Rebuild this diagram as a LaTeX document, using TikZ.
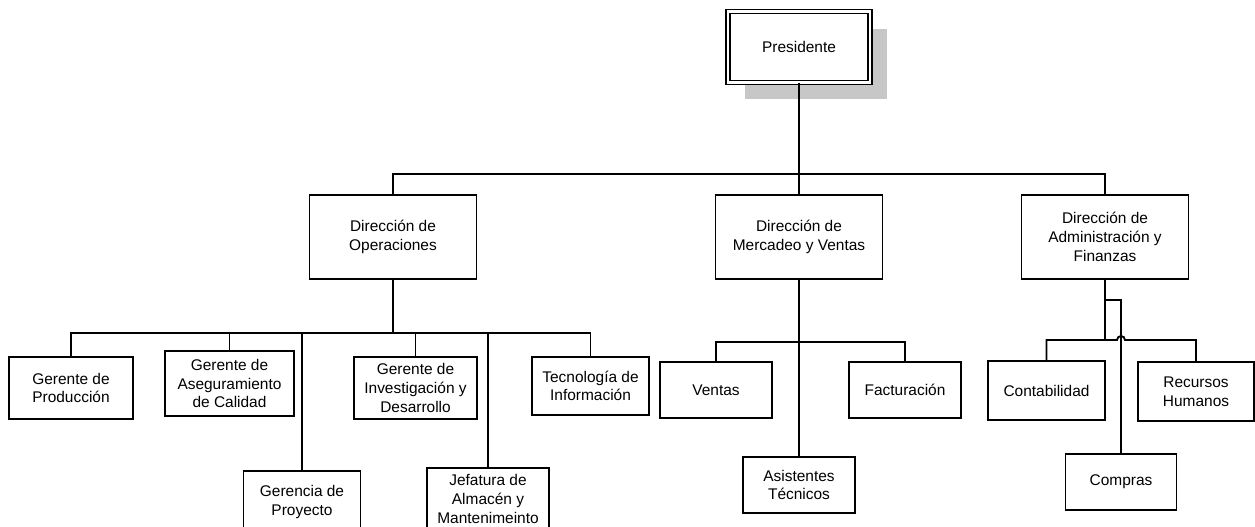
\documentclass[tikz,border=0pt]{standalone}
\usepackage{fontspec}
\setmainfont{Liberation Sans}
\usetikzlibrary{positioning, shadows}

\begin{document}
\begin{tikzpicture}[x=0.02cm, y=-0.02cm, font=\fontsize{8.8}{10.6}\selectfont]
        % Setup the style for the boxes
        \tikzset{box style/.style={draw,
                                   line width=1.05pt,
                                   fill=white,
                                   align=center,
                                   inner sep=1pt}}
        \tikzset{box style2/.style={box style,
                                    double,
                                    double distance=1.6pt,
                                    line width=0.8pt,
                                    drop shadow={shadow xshift=0.34cm, shadow yshift=-0.34cm,
                                                 fill=black!22, opacity=1}}}
        \tikzset{line style/.style={line width=1.05pt, draw=black}}

        \useasboundingbox (0,0) rectangle (1255,527);

        % Draw the boxes
        \node[box style2, minimum width=2.84cm, minimum height=1.42cm] at (799,47) (pres) {Presidente};
        \node[box style, minimum width=3.34cm, minimum height=1.68cm] at (393,237) (dirop) {Dirección de\\Operaciones};
        \node[box style, minimum width=3.34cm, minimum height=1.68cm] at (799,237) (dirmer) {Dirección de\\Mercadeo y Ventas};
        \node[box style, minimum width=3.34cm, minimum height=1.68cm] at (1105,237) (diradm) {Dirección de\\Administración y\\Finanzas};

        \node[box style, minimum width=2.48cm, minimum height=1.24cm] at (71,388) (gprod) {Gerente de\\Producción};
        \node[box style, minimum width=2.58cm, minimum height=1.30cm] at (229.5,383.5) (gcal) {Gerente de\\Aseguramiento\\de Calidad};
        \node[box style, minimum width=2.34cm, minimum height=1.24cm] at (302,502) (gproy) {Gerencia de\\Proyecto};
        \node[box style, minimum width=2.46cm, minimum height=1.24cm] at (415.5,388) (ginv) {Gerente de\\Investigación y\\Desarrollo};
        \node[box style, minimum width=2.44cm, minimum height=1.24cm] at (488,499) (jalm) {Jefatura de\\Almacén y\\Mantenimeinto};
        \node[box style, minimum width=2.34cm, minimum height=1.16cm] at (590.5,386) (tecno) {Tecnología de\\Información};

        \node[box style, minimum width=2.24cm, minimum height=1.12cm] at (716,390) (ventas) {Ventas};
        \node[box style, minimum width=2.24cm, minimum height=1.12cm] at (905,390) (fact) {Facturación};
        \node[box style, minimum width=2.24cm, minimum height=1.12cm] at (799,485) (asist) {Asistentes\\Técnicos};

        \node[box style, minimum width=2.34cm, minimum height=1.18cm] at (1046.5,390.5) (contab) {Contabilidad};
        \node[box style, minimum width=2.32cm, minimum height=1.18cm] at (1196,391.5) (recur) {Recursos\\Humanos};
        \node[box style, minimum width=2.22cm, minimum height=1.12cm] at (1121,482) (compras) {Compras};

        % Junction points
        \coordinate (bus1) at (799,174);
        \coordinate (bus2) at (393,333);
        \coordinate (bus3) at (799,342);
        \coordinate (bus4) at (1105,340);
        \coordinate (knee) at (1105,300);
        \coordinate (hopl) at (1117,340);

        % Connect the boxes
        \draw[line style] (pres) -- (bus1) -| (dirop);
        \draw[line style] (bus1) -| (diradm);
        \draw[line style] (bus1) -- (dirmer);

        \draw[line style] (dirop) -- (bus2);
        \draw[line style] (gprod) |- (bus2) -| (tecno);
        \draw[line style] (gcal) -- (gcal |- bus2);
        \draw[line style] (gproy) -- (gproy |- bus2);
        \draw[line style] (ginv) -- (ginv |- bus2);
        \draw[line style] (jalm) -- (jalm |- bus2);

        \draw[line style] (dirmer) -- (asist);
        \draw[line style] (ventas) |- (bus3) -| (fact);

        \draw[line style] (diradm) -- (bus4);
        \draw[line style] (knee) -| (compras);
        \draw[line style] (contab) |- (hopl) arc[start angle=180, end angle=0, radius=0.08cm] -| (recur);
\end{tikzpicture}
\end{document}
